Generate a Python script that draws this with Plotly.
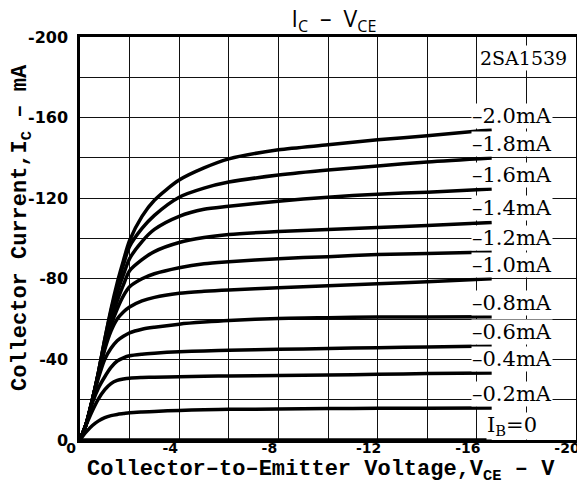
import plotly.graph_objects as go

# Shared collector-emitter voltage grid (V)
vce = [0, -0.25, -0.5, -0.75, -1, -1.25, -1.5, -1.75, -2, -2.5, -3, -4, -5, -6, -8, -10, -12, -14, -16.6]

# Base current labels
ib_labels = ["–2.0mA", "–1.8mA", "–1.6mA", "–1.4mA", "–1.2mA", "–1.0mA",
             "–0.8mA", "–0.6mA", "–0.4mA", "–0.2mA", "I<sub>B</sub>=0"]

# Collector current (mA, negative for PNP) per base current
ic_20 = [0, -8, -20, -34, -50, -65, -78, -89, -99, -111, -119, -129, -135, -139.5, -144, -146.5, -149, -151, -154]
ic_18 = [0, -8, -20, -34, -50, -64, -76, -87, -96, -105, -111.5, -120.5, -125, -128, -131.5, -134, -136, -138, -140]
ic_16 = [0, -8, -20, -34, -49, -62, -73, -82, -90, -98.5, -104.5, -111, -114.5, -116, -118.5, -120.5, -122, -123, -124.6]
ic_14 = [0, -8, -20, -33, -47, -59, -69, -77, -84, -89.5, -93.5, -98, -100.5, -102, -103.5, -104.5, -105.5, -106.5, -108]
ic_12 = [0, -8, -20, -33, -46, -57, -65, -71.5, -76, -80, -82.5, -85.5, -87.5, -88.5, -90, -91, -92, -92.5, -93.3]
ic_10 = [0, -8, -20, -33, -45, -54, -60, -63.5, -66, -69, -70.8, -72.8, -73.8, -74.5, -75.5, -76.5, -77.5, -78.5, -80]
ic_08 = [0, -8, -20, -31, -40, -45.5, -49.3, -51.5, -53.2, -55, -56, -57.5, -58.5, -59.3, -60.3, -60.7, -61, -61, -61.2]
ic_06 = [0, -8, -18.5, -26, -31.4, -36, -39.2, -40.8, -41.8, -42.6, -43.1, -43.8, -44.2, -44.5, -45, -45.4, -45.8, -46.2, -46.6]
ic_04 = [0, -7.5, -14.5, -20.5, -25, -28, -29.6, -30.3, -30.7, -31, -31.2, -31.4, -31.6, -31.8, -32, -32.3, -32.6, -33, -33.3]
ic_02 = [0, -4, -7.2, -9.5, -11.1, -12.1, -12.7, -13.1, -13.5, -13.9, -14.2, -14.7, -15, -15.2, -15.4, -15.6, -15.7, -15.8, -15.9]
ic_00 = [0] * len(vce)

curves = [ic_20, ic_18, ic_16, ic_14, ic_12, ic_10, ic_08, ic_06, ic_04, ic_02, ic_00]

x_ticks = [0, -4, -8, -12, -16, -20]
y_ticks = [0, -40, -80, -120, -160, -200]

part_name = "2SA1539"

fig = go.Figure()
for name, ic in zip(ib_labels, curves):
    fig.add_trace(go.Scatter(x=vce, y=ic, mode="lines", name=name,
                             line=dict(color="black", width=3.5, shape="spline", smoothing=0.8),
                             showlegend=False, hoverinfo="skip"))

serif = "DejaVu Serif"
mono = "Liberation Mono"

for name, ic in zip(ib_labels, curves):
    is_zero = name.startswith("I")
    fig.add_annotation(x=vce[-1], y=ic[-1], xref="x", yref="y", text=name,
                       showarrow=False, xanchor="left", yanchor="middle",
                       xshift=-6 if is_zero else -21, yshift=14,
                       bgcolor="white", borderpad=0,
                       font=dict(family=serif, size=21, color="black"))

fig.add_annotation(x=1, y=1, xref="paper", yref="paper", text=part_name,
                   showarrow=False, xanchor="right", yanchor="top",
                   xshift=-7, yshift=-8, bgcolor="white", borderpad=1,
                   font=dict(family=serif, size=19, color="black"))

# Axis titles
fig.add_annotation(x=-58 / 496, y=0.526, xref="paper", yref="paper",
                   text="Collector Current,I<sub>C</sub> – mA", textangle=-90,
                   showarrow=False, xanchor="center", yanchor="middle",
                   font=dict(family=mono, size=22, color="black", weight="bold"))
fig.add_annotation(x=0.486, y=-31 / 403, xref="paper", yref="paper",
                   text="Collector–to–Emitter Voltage,V<sub>CE</sub> – V",
                   showarrow=False, xanchor="center", yanchor="middle",
                   font=dict(family=mono, size=22, color="black", weight="bold"))

axis_common = dict(showline=True, linecolor="black", linewidth=2.5, mirror=True,
                   showgrid=True, gridcolor="#111111", gridwidth=1.2,
                   zeroline=False, ticks="")

fig.update_xaxes(range=[0, -20], tickvals=x_ticks, ticktext=[str(v) for v in x_ticks],
                 minor=dict(dtick=2, tick0=0, showgrid=True, gridcolor="#111111", gridwidth=1.2),
                 tickfont=dict(family="DejaVu Sans", size=14, color="black", weight="bold"),
                 ticklabelshift=9, ticklabelstandoff=-7, ticklabeloverflow="allow",
                 **axis_common)
fig.update_yaxes(range=[0, -200], tickvals=y_ticks, ticktext=[str(v) for v in y_ticks],
                 minor=dict(dtick=20, tick0=0, showgrid=True, gridcolor="#111111", gridwidth=1.2),
                 tickfont=dict(family="DejaVu Sans", size=16, color="black", weight="bold"),
                 ticklabelstandoff=6, **axis_common)

# The page body adds an 8px offset; the figure is sized to fill the window
fig.update_layout(
    width=577, height=483,
    margin=dict(l=72, r=9, t=29, b=51, autoexpand=False),
    paper_bgcolor="white", plot_bgcolor="white",
    title=dict(text="I<sub>C</sub>  –  V<sub>CE</sub>", x=0.565, xanchor="center",
               y=0.977, yanchor="middle",
               font=dict(family="Open Sans", size=23, color="black")),
)

fig.write_html("out.html")
